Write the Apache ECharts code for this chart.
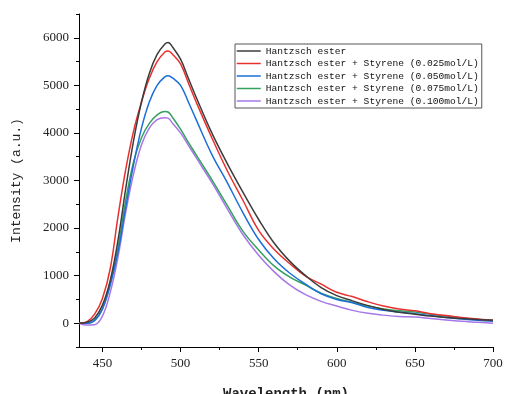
<!DOCTYPE html>
<html>
<head>
<meta charset="utf-8">
<script src="https://cdn.jsdelivr.net/npm/echarts@6/dist/echarts.min.js"></script>
<style>html,body{margin:0;padding:0;background:#fff}#c{width:505px;height:394px}</style>
</head>
<body>
<div id="c"></div>
<script>
const wavelengths = [435,440,445,450,455,460,465,470,475,480,485,490,492,495,500,505,510,520,530,540,550,560,570,580,590,600,610,620,630,640,650,660,670,680,690,700];
const hantzsch   = [0,20,110,380,900,1750,2850,3850,4650,5250,5650,5870,5900,5800,5550,5150,4750,4000,3350,2750,2180,1680,1300,1000,750,580,470,370,290,230,190,150,120,100,80,60];
const styrene025 = [0,30,190,520,1150,2250,3250,4050,4650,5150,5500,5700,5720,5650,5450,5050,4650,3900,3200,2580,1950,1550,1250,990,820,650,560,450,360,300,260,200,160,120,90,60];
const styrene050 = [0,0,60,300,800,1500,2450,3350,4100,4650,5000,5180,5200,5150,5000,4650,4280,3550,2950,2320,1760,1350,1050,820,620,500,430,330,270,230,200,160,120,90,60,40];
const styrene075 = [0,0,60,300,850,1600,2600,3400,3900,4200,4380,4450,4440,4320,4080,3800,3540,3020,2470,1930,1540,1200,970,800,630,520,440,360,300,260,235,190,150,110,80,60];
const styrene100 = [0,-40,-30,150,650,1400,2350,3150,3750,4100,4280,4320,4310,4200,4000,3740,3480,2960,2400,1860,1430,1080,800,600,460,360,270,210,170,140,130,100,70,40,20,0];
const seriesNames = ['Hantzsch ester','Hantzsch ester + Styrene (0.025mol/L)','Hantzsch ester + Styrene (0.050mol/L)','Hantzsch ester + Styrene (0.075mol/L)','Hantzsch ester + Styrene (0.100mol/L)'];
const xMajorTicks = [450,500,550,600,650,700];
const xMinorTicks = [475,525,575,625,675];
const yMajorTicks = [0,1000,2000,3000,4000,5000,6000];
const yMinorTicks = [-500,500,1500,2500,3500,4500,5500,6500];

const allSeries = [hantzsch, styrene025, styrene050, styrene075, styrene100];
const colors = ['#3c3c3c','#e8302e','#1c6fd8','#35a05f','#a678e8'];

const chart = echarts.init(document.getElementById('c'));
const tickFont = {fontFamily:'Liberation Serif', fontSize:13, color:'#222'};
chart.setOption({
  animation:false,
  grid:{left:79,right:12,top:14,bottom:47, outerBoundsMode:'none', containLabel:false},
  legend:{
    orient:'vertical', left:235, top:44,
    itemWidth:24, itemHeight:10, itemGap:2.5,
    padding:[2,3,2,1],
    borderColor:'#555', borderWidth:1, backgroundColor:'#fff',
    itemStyle:{opacity:0},
    lineStyle:{width:1.5},
    textStyle:{fontFamily:'Liberation Mono', fontSize:9.6, color:'#111'},
    data:seriesNames
  },
  xAxis:[{
    type:'value', min:435, max:700,
    axisLine:{onZero:false, lineStyle:{color:'#000',width:1}},
    axisTick:{length:5, customValues:xMajorTicks, lineStyle:{color:'#000'}},
    axisLabel:Object.assign({customValues:xMajorTicks, margin:10}, tickFont),
    splitLine:{show:false},
    name:'Wavelength (nm)', nameLocation:'middle', nameGap:40,
    nameTextStyle:{fontFamily:'Liberation Mono', fontSize:14, fontWeight:'bold', color:'#222'}
  },{
    type:'value', min:435, max:700, position:'bottom',
    axisLine:{show:false, onZero:false},
    axisTick:{length:3, customValues:xMinorTicks, lineStyle:{color:'#000'}},
    axisLabel:{show:false}, splitLine:{show:false}
  }],
  yAxis:[{
    type:'value', min:-500, max:6500,
    axisLine:{show:true, onZero:false, lineStyle:{color:'#000',width:1}},
    axisTick:{show:true, length:5, customValues:yMajorTicks, lineStyle:{color:'#000'}},
    axisLabel:Object.assign({customValues:yMajorTicks, margin:10, formatter:v=>String(v)}, tickFont),
    splitLine:{show:false},
    name:'Intensity (a.u.)', nameLocation:'middle', nameGap:56,
    nameTextStyle:{fontFamily:'Liberation Mono', fontSize:13, color:'#222'}
  },{
    type:'value', min:-500, max:6500, position:'left',
    axisLine:{show:false, onZero:false},
    axisTick:{show:true, length:3, customValues:yMinorTicks, lineStyle:{color:'#000'}},
    axisLabel:{show:false}, splitLine:{show:false}
  }],
  series: allSeries.map((vals,i)=>({
    name:seriesNames[i], type:'line', xAxisIndex:0, yAxisIndex:0,
    symbol:'none', smooth:0.4,
    lineStyle:{color:colors[i], width:1.5},
    itemStyle:{color:colors[i]},
    z: 10 - i,
    data: wavelengths.map((w,k)=>[w, vals[k]])
  }))
});
</script>
</body>
</html>
